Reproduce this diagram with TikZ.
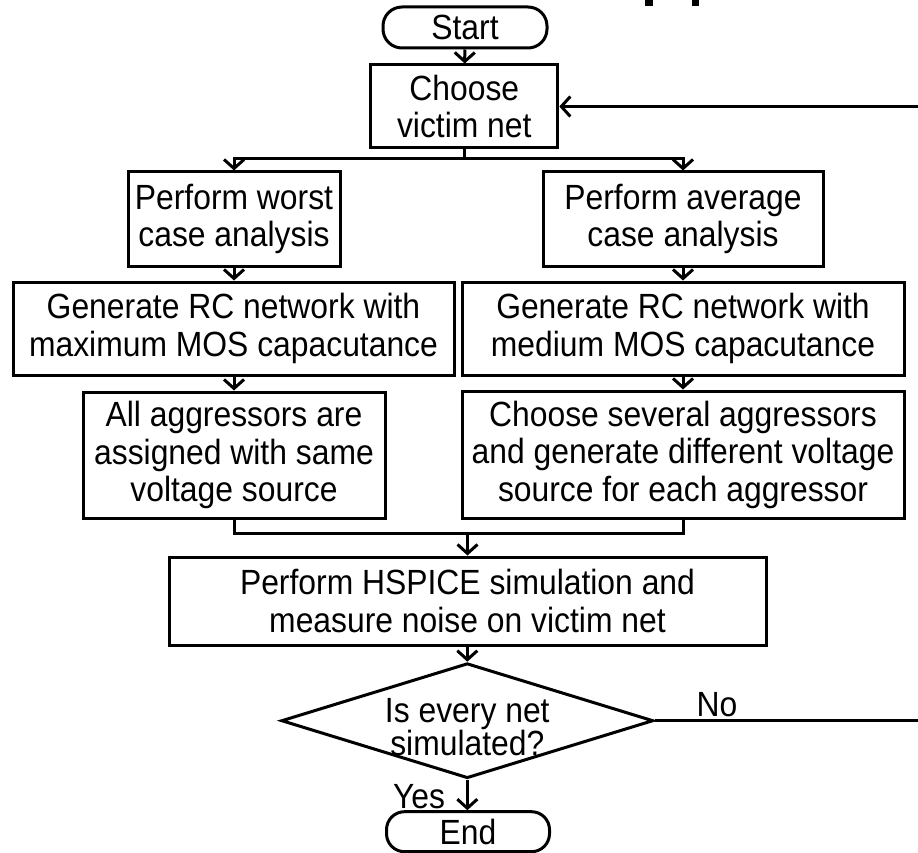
\documentclass[tikz,border=0pt]{standalone}
\usepackage{fontspec}
\setmainfont{Liberation Sans}[FakeStretch=0.91]
\usetikzlibrary{shapes.geometric,arrows.meta}
\begin{document}
\begin{tikzpicture}[x=1pt,y=-1pt,
  every node/.style={font=\fontsize{35}{37.5}\selectfont, inner sep=0pt, align=center},
  box/.style={draw, line width=3pt, rectangle},
  term/.style={draw, line width=3pt, rectangle, rounded corners=19pt},
  conn/.style={line width=3pt},
  arr/.style={line width=3pt, -{Straight Barb[length=9pt,width=20pt]}}]
\useasboundingbox (0,0) rectangle (918,853);
\clip (0,0) rectangle (918,853);
% fragments at top
\fill (645,-2) rectangle (652.5,6.5);
\fill (691.5,-2) rectangle (699,6.5);
% nodes
\node[term, minimum width=164, minimum height=41] (start) at (465,27.5) {Start};
\node[box, minimum width=187, minimum height=83] (choose) at (464.3,106.5) {Choose\\victim net};
\node[box, minimum width=212, minimum height=94] (worst) at (234,219) {Perform worst\\case analysis};
\node[box, minimum width=280, minimum height=94] (avg) at (683,219) {Perform average\\case analysis};
\node[box, minimum width=441, minimum height=93] (gen1) at (233.5,328.5) {Generate RC network with\\maximum MOS capacutance};
\node[box, minimum width=442, minimum height=93] (gen2) at (683,328.5) {Generate RC network with\\medium MOS capacutance};
\node[box, minimum width=302, minimum height=126] (all) at (234,455) {All aggressors are\\assigned with same\\voltage source};
\node[box, minimum width=442, minimum height=127] (sev) at (683,454.5) {Choose several aggressors\\and generate different voltage\\source for each aggressor};
\node[box, minimum width=597, minimum height=88] (hsp) at (467.5,601) {Perform HSPICE simulation and\\measure noise on victim net};
\node[diamond, draw, line width=3pt, minimum width=372, minimum height=115] (dec) at (467.3,720.7) {};
\node[font=\fontsize{35}{33}\selectfont] (dectext) at (467.3,727) {Is every net\\simulated?};
\node[term, minimum width=163, minimum height=40, rounded corners=18pt] (endn) at (468,831.7) {End};
\node (yes) at (419,797) {Yes};
\node (no) at (717,705) {No};
% connectors
\coordinate (br) at (464.3,158.3);
\coordinate (mg) at (467.5,533);
\coordinate (loop) at (945,720.7);
\draw[arr] (start) -- (choose);
\draw[conn] (choose.south) -- (br);
\draw[arr] (br) -| (worst.north);
\draw[arr] (br) -| (avg.north);
\draw[arr] (worst) -- (gen1.north -| worst);
\draw[arr] (avg) -- (gen2);
\draw[arr] (gen1.south -| all) -- (all);
\draw[arr] (gen2) -- (sev);
\draw[conn] (all.south) |- (mg);
\draw[conn] (sev.south) |- (mg);
\draw[arr] (mg) -- (hsp.north -| mg);
\draw[arr] (hsp.south -| dec) -- (dec.north);
\draw[arr] (dec.south) -- (endn.north -| dec);
\draw[arr] (dec.east) -- (loop) |- (choose.east);
\end{tikzpicture}
\end{document}
